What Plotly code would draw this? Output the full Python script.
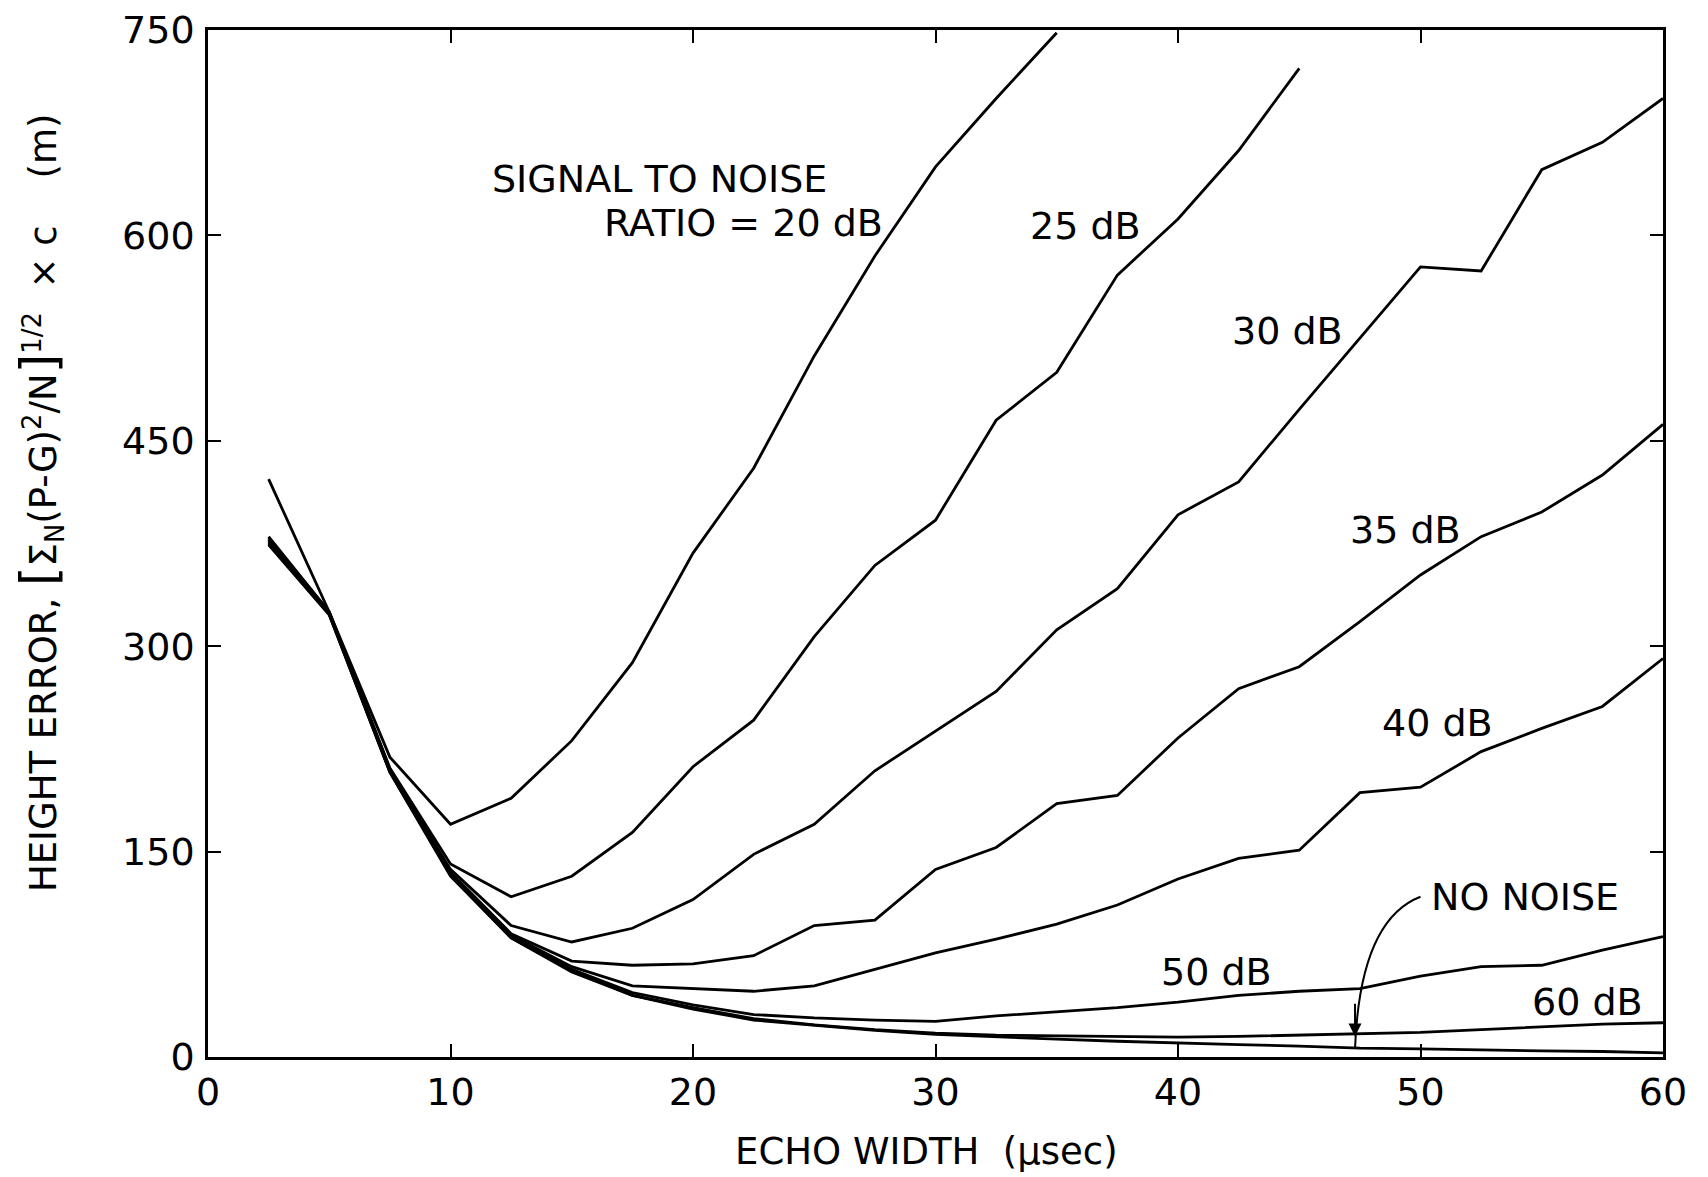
import plotly.graph_objects as go

# Echo width (usec)
x_all = [2.5, 5, 7.5, 10, 12.5, 15, 17.5, 20, 22.5, 25, 27.5, 30, 32.5, 35,
         37.5, 40, 42.5, 45, 47.5, 50, 52.5, 55, 57.5, 60]

# Height error (m) for each signal-to-noise ratio
snr20 = [422, 325, 219, 170, 189, 231, 288, 368, 430, 512, 585, 650, 700, 748]
snr25 = [380, 325, 211, 141, 117, 132, 164, 212, 246, 307, 359, 392, 465, 500,
         571, 612, 662, 722]
snr30 = [379, 325, 210, 137, 96, 84, 94, 115, 148, 170, 209, 238, 267, 312,
         342, 396, 420, 473, 525, 577, 574, 648, 668, 700]
snr35 = [378, 324, 210, 135, 90, 70, 67, 68, 74, 96, 100, 137, 153, 185,
         191, 233, 269, 285, 318, 352, 380, 398, 425, 462]
snr40 = [377, 324, 209, 134, 89, 66, 52, 50, 48, 52, 64, 76, 86, 97,
         111, 130, 145, 151, 193, 197, 223, 240, 256, 291]
snr50 = [376, 324, 209, 133, 88, 64, 47, 38, 31, 28.5, 27, 26, 30, 33,
         36, 40, 45, 48, 50, 59, 66, 67, 78, 88]
snr60 = [375, 323, 208, 133, 87, 63, 45, 36, 28, 23.5, 20, 17.5, 16, 15.5,
         15, 14.5, 15, 16, 17, 18, 20, 22, 24, 25]
no_noise = [374, 323, 208, 132, 87, 62, 45, 35, 27, 23, 19.5, 16.5, 14.5, 13,
            11.5, 10, 9, 8, 6.5, 6, 5, 4.5, 4, 3]

series = [snr20, snr25, snr30, snr35, snr40, snr50, snr60, no_noise]

x_ticks = [0, 10, 20, 30, 40, 50, 60]
y_ticks = [0, 150, 300, 450, 600, 750]

# in-plot labels: (text, x, y)
labels = [
    ("SIGNAL TO NOISE", 18.6, 641),
    ("RATIO = 20 dB", 22.1, 609),
    ("25 dB", 36.2, 607),
    ("30 dB", 44.5, 530),
    ("35 dB", 49.4, 385),
    ("40 dB", 50.7, 244),
    ("50 dB", 41.6, 62),
    ("60 dB", 56.9, 40),
    ("NO NOISE", 54.3, 117),
]

FONT = "DejaVu Sans, Arial, sans-serif"

fig = go.Figure()
for ys in series:
    fig.add_trace(go.Scatter(x=x_all[:len(ys)], y=ys, mode="lines",
                             line=dict(color="black", width=2.8),
                             showlegend=False, hoverinfo="skip"))

for txt, lx, ly in labels:
    fig.add_annotation(x=lx, y=ly, xref="x", yref="y", text=txt, showarrow=False,
                       font=dict(family=FONT, size=38, color="black"))

# curved arrow from "NO NOISE" to the no-noise curve
fig.add_shape(type="path", xref="x", yref="y",
              path="M 50.0,117 Q 47.5,100 47.3,6",
              line=dict(color="black", width=2))
fig.add_annotation(x=47.3, y=15, ax=47.3, ay=40, xref="x", yref="y",
                   axref="x", ayref="y", text="", showarrow=True,
                   arrowhead=2, arrowsize=1.3, arrowwidth=2, arrowcolor="black")

# axis titles
fig.add_annotation(xref="paper", yref="paper", x=0.4935, y=-0.092,
                   xanchor="center", yanchor="middle",
                   text="ECHO WIDTH  (\u03bcsec)", showarrow=False,
                   font=dict(family=FONT, size=37, color="black"))
ytitle = ("HEIGHT ERROR, <span style='font-size:50px'>[</span>"
          "\u03a3<sub>N</sub>(P-G)<sup>2</sup>/N"
          "<span style='font-size:50px'>]</span><sup>1/2</sup>  \u00d7 c    (m)")
fig.add_annotation(xref="paper", yref="paper", x=-0.115, y=0.54,
                   xanchor="center", yanchor="middle",
                   text=ytitle, textangle=-90, showarrow=False,
                   font=dict(family=FONT, size=37, color="black"))

axis_common = dict(showgrid=False, zeroline=False, showline=True, linecolor="black",
                   linewidth=2.5, mirror="ticks", ticks="inside", ticklen=13,
                   tickwidth=2, tickcolor="black", ticklabeloverflow="allow",
                   automargin=False,
                   tickfont=dict(family=FONT, size=38, color="black"))
fig.update_xaxes(range=[0, 60], tickvals=x_ticks, **axis_common)
fig.update_yaxes(range=[0, 750], tickvals=y_ticks, ticklabelstandoff=3, **axis_common)

fig.update_layout(width=1700, height=1169, plot_bgcolor="white", paper_bgcolor="white",
                  margin=dict(l=200, r=45, t=22, b=120, autoexpand=False),
                  showlegend=False)

fig.write_html("out.html")
